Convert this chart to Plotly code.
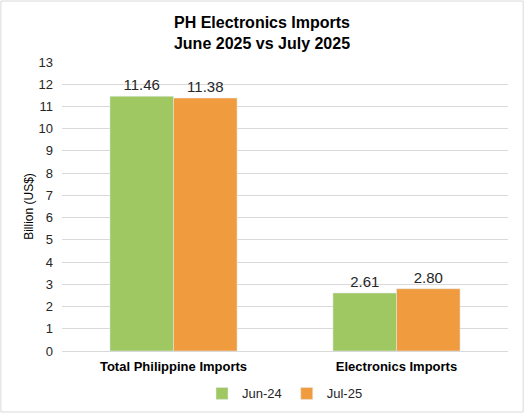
import plotly.graph_objects as go

categories = ["Total Philippine Imports", "Electronics Imports"]
jun_24 = [11.46, 2.61]
jul_25 = [11.38, 2.80]
series_names = ["Jun-24", "Jul-25"]

green = "#A0C862"
orange = "#F09B3E"

fig = go.Figure()
fig.add_trace(go.Bar(x=categories, y=jun_24, name=series_names[0], marker_color=green,
                     text=[f"{v:.2f}" for v in jun_24], textposition="outside",
                     textfont=dict(size=15, color="#262626"), cliponaxis=False))
fig.add_trace(go.Bar(x=categories, y=jul_25, name=series_names[1], marker_color=orange,
                     text=[f"{v:.2f}" for v in jul_25], textposition="outside",
                     textfont=dict(size=15, color="#262626"), cliponaxis=False))

fig.update_layout(
    width=524, height=413,
    font=dict(family="Liberation Sans, Arial", color="#262626", size=12),
    title=dict(text="<b>PH Electronics Imports<br>June 2025 vs July 2025</b>",
               x=0.5, xanchor="center", y=0.932, yanchor="top",
               font=dict(size=16, color="#000000")),
    barmode="group", bargap=0.43, bargroupgap=0,
    paper_bgcolor="white", plot_bgcolor="white",
    margin=dict(l=62, r=16, t=62, b=62, autoexpand=False),
    xaxis=dict(tickfont=dict(size=13, color="#000000"), automargin=False,
               tickvals=categories, ticktext=[f"<b>{c}</b>" for c in categories],
               showline=False, ticklabelstandoff=6),
    yaxis=dict(range=[0, 13], dtick=1, showgrid=True, gridcolor="#D9D9D9",
               zeroline=True, zerolinecolor="#D9D9D9", zerolinewidth=1, automargin=False,
               title=dict(text="Billion (US$)", font=dict(size=12, color="#000000"), standoff=2),
               ticks="", tickfont=dict(size=13), ticklabelstandoff=8),
    legend=dict(orientation="h", x=0.5, xanchor="center", y=-0.095, yanchor="top",
                font=dict(size=13), itemwidth=30),
    shapes=[dict(type="rect", xref="paper", yref="paper", x0=-0.137, y0=-0.211,
                 x1=1.034, y1=1.211, line=dict(color="#D9D9D9", width=1))],
)

# drop the default page margin so the figure sits at the window's corner
fig.write_html("out.html", config={"displayModeBar": False},
               post_script="document.body.style.margin='0';document.body.style.overflow='hidden';")
